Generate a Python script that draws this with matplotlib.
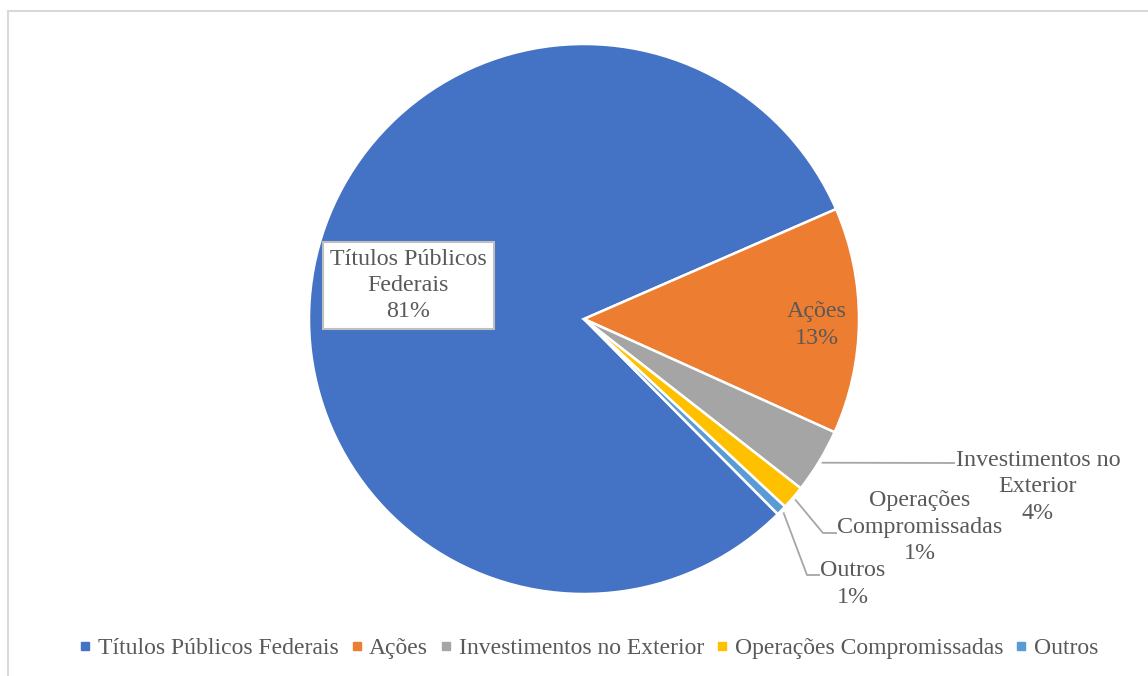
import numpy as np
import matplotlib.pyplot as plt
from matplotlib.patches import Rectangle
from matplotlib.lines import Line2D

categorias = ["Títulos Públicos Federais", "Ações", "Investimentos no Exterior",
              "Operações Compromissadas", "Outros"]
rotulos = ["Títulos Públicos\nFederais", "Ações", "Investimentos no\nExterior",
           "Operações\nCompromissadas", "Outros"]
valores = [80.9, 13.3, 3.8, 1.4, 0.6]
cores = ["#4472C4", "#ED7D31", "#A5A5A5", "#FFC000", "#5B9BD5"]

plt.rcParams["font.family"] = ["Liberation Serif", "DejaVu Serif"]
TXT = "#595959"

W, H = 1148, 676
CX, CY, R = 584, 319, 275


def px(x, y):
    # pixel (from top-left) -> data units, pie radius = 1
    return (x - CX) / R, (CY - y) / R


fig = plt.figure(figsize=(W / 100, H / 100), dpi=100)
ax = fig.add_axes([0, 0, 1, 1])

wedges, _ = ax.pie(valores, colors=cores, startangle=-45.2, counterclock=False,
                   radius=1, center=(0, 0),
                   wedgeprops=dict(edgecolor="white", linewidth=1.8))
ax.set_xlim(-CX / R, (W - CX) / R)
ax.set_ylim((CY - H) / R, CY / R)
ax.set_aspect("auto")
ax.axis("off")

total = sum(valores)
pct = [f"{round(v / total * 100):d}%" for v in valores]


def meio(w):
    return np.deg2rad((w.theta1 + w.theta2) / 2)


fs = 17.3
ls = 1.32
passo = 26.5  # px entre linhas


def rotulo(x, y, texto):
    # uma linha por vez, centradas em (x, y) em pixels
    linhas = texto.split("\n")
    y0 = y - passo * (len(linhas) - 1) / 2
    for k, ln in enumerate(linhas):
        ax.text(*px(x, y0 + k * passo), ln, ha="center", va="center",
                fontsize=fs, color=TXT)


# Títulos: caixa dentro da fatia
a = meio(wedges[0])
ax.text(0.65 * np.cos(a), 0.65 * np.sin(a), f"{rotulos[0]}\n{pct[0]}",
        ha="center", va="center", fontsize=fs, color=TXT, linespacing=ls,
        bbox=dict(boxstyle="square,pad=0.3", fc="white", ec="#bfbfbf", lw=1.5))

# Ações: dentro da fatia
rotulo(817, 325, f"{rotulos[1]}\n{pct[1]}")

# rótulos externos com linhas de chamada
externos = [
    (2, (1038, 487), [px(955, 463)]),
    (3, (920, 527), [px(823, 533), px(837, 533)]),
    (4, (853, 584), [px(807, 575), px(820, 575)]),
]
for i, pos, trajeto in externos:
    a = meio(wedges[i])
    x0, y0 = 1.01 * np.cos(a), 1.01 * np.sin(a)
    xs = [x0] + [p[0] for p in trajeto]
    ys = [y0] + [p[1] for p in trajeto]
    ax.plot(xs, ys, color="#a6a6a6", lw=1.3, solid_capstyle="butt")
    rotulo(pos[0], pos[1], f"{rotulos[i]}\n{pct[i]}")

# legenda
handles = [Line2D([], [], marker="s", ls="", color=c, markersize=5.5) for c in cores]
fig.legend(handles, categorias, loc="center", bbox_to_anchor=(0.5 + 15 / W, 1 - 648 / H),
           ncol=5, frameon=False, fontsize=17, labelcolor=TXT,
           handlelength=0.45, handletextpad=0.3, columnspacing=0.55)

# moldura do gráfico
fig.add_artist(Rectangle((8 / W, -0.1), 1.2, 1 - 11 / H + 0.1, transform=fig.transFigure,
                         fill=False, ec="#d9d9d9", lw=1.5))

fig.savefig("out.png", dpi=100, facecolor="white")
